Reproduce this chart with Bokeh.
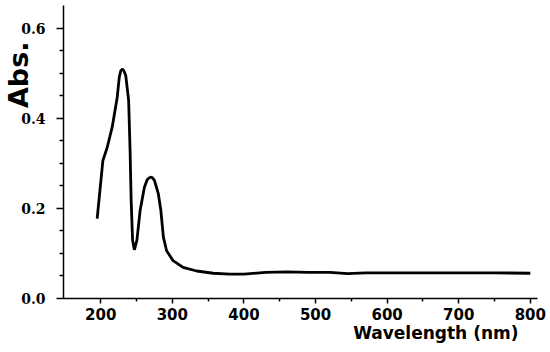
from bokeh.plotting import figure
from bokeh.models import Range1d, FixedTicker, PrintfTickFormatter, Title
from bokeh.embed import file_html
from bokeh.resources import INLINE

wavelength = [195, 203, 209, 216, 223, 226, 228, 230, 232.5, 235, 239, 241, 242.5, 244.5, 247,
              250.5, 255, 261, 265, 269, 272, 275, 280.5, 284, 287.5, 292, 301, 315, 334, 357,
              380, 400, 430, 460, 490, 520, 545, 570, 600, 650, 700, 750, 800]
absorbance = [0.177, 0.306, 0.335, 0.380, 0.446, 0.492, 0.505, 0.509, 0.505, 0.494, 0.439, 0.328,
              0.217, 0.129, 0.108, 0.129, 0.195, 0.247, 0.264, 0.269, 0.268, 0.262, 0.232, 0.195,
              0.136, 0.106, 0.084, 0.069, 0.061, 0.056, 0.054, 0.054, 0.058, 0.059, 0.058, 0.058,
              0.055, 0.057, 0.057, 0.057, 0.057, 0.057, 0.056]

x_major = [200, 300, 400, 500, 600, 700, 800]
x_minor = [250, 350, 450, 550, 650, 750]
y_major = [0.0, 0.2, 0.4, 0.6]
y_minor = [0.05, 0.1, 0.15, 0.25, 0.3, 0.35, 0.45, 0.5, 0.55]

p = figure(width=550, height=352, output_backend="svg", toolbar_location=None,
           x_range=Range1d(148, 810), y_range=Range1d(0, 0.65),
           min_border_left=63, min_border_right=13, min_border_top=5, min_border_bottom=54)
p.outline_line_color = None
p.grid.visible = False
p.background_fill_color = "white"
p.border_fill_color = "white"

p.line(wavelength, absorbance, line_color="black", line_width=2.8)

xa = p.xaxis[0]
xa.ticker = FixedTicker(ticks=x_major, minor_ticks=x_minor)
xa.axis_line_width = 1.5
xa.major_tick_line_width = 1.5
xa.minor_tick_line_width = 1.5
xa.major_tick_in = 0
xa.major_tick_out = 5
xa.minor_tick_in = 0
xa.minor_tick_out = 3
xa.major_label_standoff = 4
xa.major_label_text_font = "DejaVu Sans"
xa.major_label_text_font_style = "bold"
xa.major_label_text_font_size = "15px"
xa.major_label_text_color = "black"

ya = p.yaxis[0]
ya.ticker = FixedTicker(ticks=y_major, minor_ticks=y_minor)
ya.formatter = PrintfTickFormatter(format="%.1f")
ya.axis_line_width = 1.5
ya.major_tick_line_width = 1.5
ya.minor_tick_line_width = 1.5
ya.major_tick_in = 0
ya.major_tick_out = 7
ya.minor_tick_in = 0
ya.minor_tick_out = 4
ya.major_label_standoff = 11
ya.major_label_text_font = "DejaVu Serif"
ya.major_label_text_font_style = "bold"
ya.major_label_text_font_size = "14px"
ya.major_label_text_color = "black"

p.add_layout(Title(text="Abs.", align="right", vertical_align="bottom", offset=36, standoff=-31,
                   text_font="DejaVu Sans", text_font_style="bold", text_font_size="27px",
                   text_color="black"), "left")

p.add_layout(Title(text="Wavelength (nm)", align="right", vertical_align="bottom", offset=19,
                   standoff=-3, text_font="DejaVu Sans", text_font_style="bold",
                   text_font_size="17px", text_color="black"), "below")

open("out.html", "w").write(file_html(p, INLINE))
